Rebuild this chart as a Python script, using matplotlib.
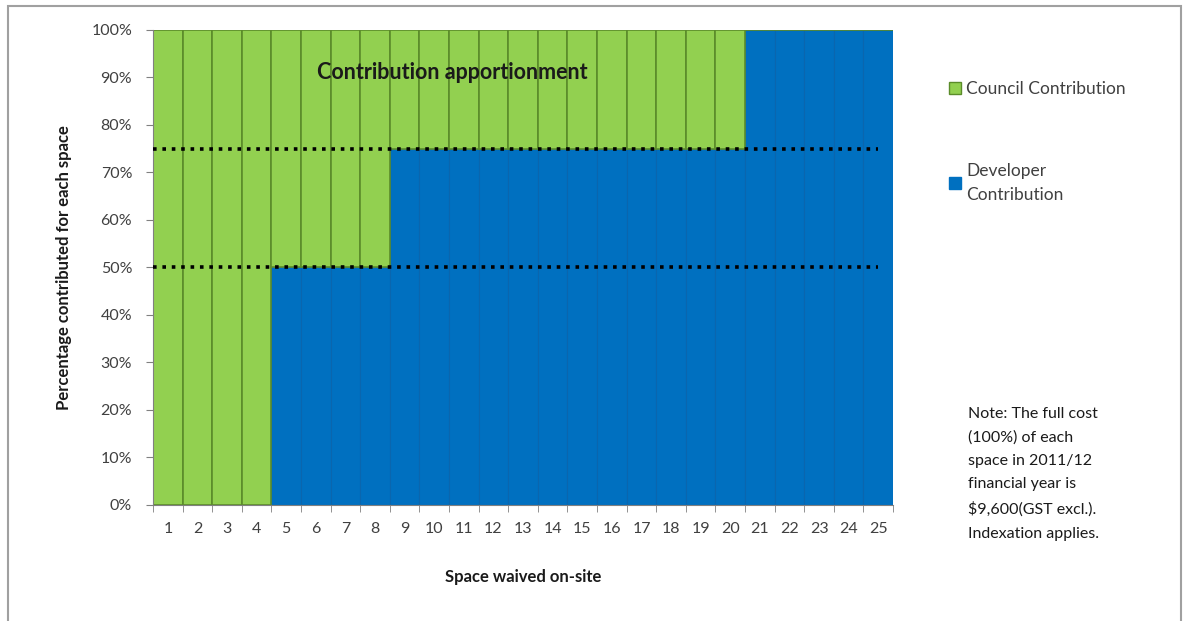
import numpy as np
from matplotlib import pyplot as plt
from matplotlib.patches import Rectangle, Patch

plt.rcParams['font.family'] = ['Lato', 'DejaVu Sans']

spaces = list(range(1, 26))
developer = [0] * 4 + [50] * 4 + [75] * 12 + [100] * 5
council = [100] * 4 + [50] * 4 + [25] * 12 + [0] * 5
threshold_lines = [75, 50]
y_ticks = list(range(0, 101, 10))

green = '#92D050'
blue = '#0070C0'

fig = plt.figure(figsize=(11.89, 6.21), dpi=100)
ax = fig.add_axes([0.1287, 0.1868, 0.6224, 0.765])

# developer share sits at the bottom, council share on top
ax.bar(spaces, developer, width=1.0, color=blue, edgecolor='#0A66AE',
       linewidth=0.8, zorder=2)
ax.bar(spaces, council, bottom=developer, width=1.0, color=green, edgecolor='#5B8C2A',
       linewidth=1.2, zorder=2)

for y in threshold_lines:
    ax.plot([0.5, 25], [y, y], color='black', linestyle=(0, (1, 1.6)), linewidth=2.6, zorder=3)

ax.text(10.6, 91, 'Contribution apportionment', fontsize=15.5, fontweight='bold',
        color='#1A1A1A', ha='center', va='center', zorder=4)

ax.set_xlim(0.5, 25.5)
ax.set_ylim(0, 100)
ax.set_yticks(y_ticks)
ax.set_yticklabels([f'{v}%' for v in y_ticks], fontsize=11.5, color='#404040')
ax.set_xticks(spaces)
ax.set_xticklabels([str(s) for s in spaces], fontsize=11.5, color='#404040')
ax.set_xticks(np.arange(0.5, 26, 1), minor=True)
ax.tick_params(axis='x', which='major', length=0, pad=12)
ax.tick_params(axis='x', which='minor', length=5, color='#808080', direction='out')
ax.tick_params(axis='y', length=5, color='#808080', pad=10)
for side in ['top', 'right']:
    ax.spines[side].set_visible(False)
ax.spines['left'].set_color('#808080')
ax.spines['bottom'].set_color('#808080')

ax.set_ylabel('Percentage contributed for each space', fontsize=12, fontweight='bold',
              color='#1A1A1A', labelpad=14)
ax.set_xlabel('Space waived on-site', fontsize=12, fontweight='bold', color='#1A1A1A',
              labelpad=24)

handles = [Patch(facecolor=green, edgecolor='#5B8C2A'), Patch(facecolor=blue, edgecolor=blue)]
fig.legend(handles, ['Council Contribution', 'Developer\nContribution'],
           loc='upper left', bbox_to_anchor=(0.785, 0.895), frameon=False,
           labelspacing=3.8, handlelength=0.7, handleheight=0.7,
           handletextpad=0.3, labelcolor='#404040', prop={'size': 12.5})
for t in fig.legends[0].get_texts():
    t.set_linespacing(1.6)

fig.text(0.814, 0.345, 'Note: The full cost\n(100%) of each\nspace in 2011/12\n'
         'financial year is\n$9,600(GST excl.).\nIndexation applies.',
         fontsize=11.5, color='#1A1A1A', ha='left', va='top', linespacing=1.85)

fig.patches.append(Rectangle((0.007, -0.05), 0.986, 1.04, transform=fig.transFigure,
                             fill=False, edgecolor='#A0A0A0', linewidth=1.5))

fig.savefig('out.png', dpi=100)
